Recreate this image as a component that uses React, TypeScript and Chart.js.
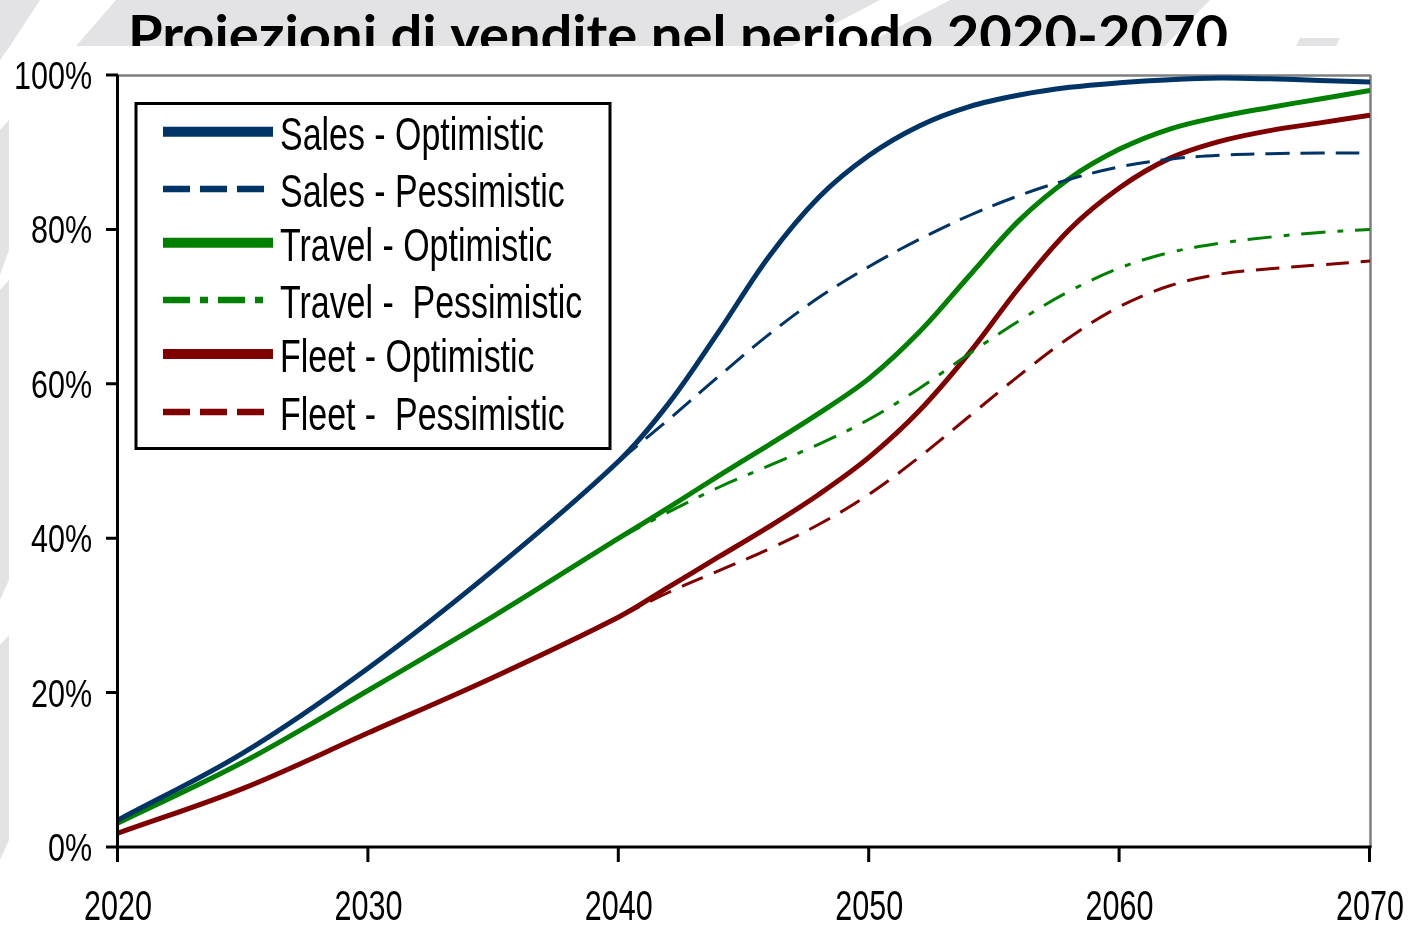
import React, { useEffect, useRef } from "react";
import { Chart, registerables } from "chart.js";

Chart.register(...registerables);

// ---------------- DATA ----------------
const years = [2020, 2025, 2030, 2035, 2040, 2042, 2044, 2046, 2048, 2050, 2052, 2054, 2056, 2058, 2060, 2062, 2064, 2066, 2068, 2070];

const salesOptimistic = [3.5, 12.2, 23.2, 35.9, 50, 57.5, 66.8, 76.5, 84.2, 89.6, 93.4, 95.9, 97.4, 98.4, 99.0, 99.4, 99.6, 99.5, 99.3, 99.1];
const salesPessimistic = [null, null, null, null, 50, 55.4, 61.0, 66.4, 71.2, 75.2, 78.7, 81.8, 84.4, 86.5, 88.1, 89.1, 89.6, 89.8, 89.9, 89.9];
const travelOptimistic = [3.1, 11.0, 20.3, 29.9, 40, 44, 48.1, 52.1, 56.2, 60.7, 66.7, 74.0, 81.2, 86.6, 90.4, 93.0, 94.6, 95.8, 96.9, 98];
const travelPessimistic = [null, null, null, null, 40, 43.4, 46.6, 49.4, 52.2, 55.4, 59.4, 63.9, 68.2, 72.0, 75.0, 77.0, 78.2, 79.0, 79.6, 80.0];
const fleetOptimistic = [1.8, 7.6, 14.8, 22.0, 29.8, 33.7, 37.6, 41.5, 45.7, 50.5, 56.5, 64.0, 72.5, 80.0, 85.4, 89.2, 91.4, 92.8, 93.8, 94.8];
const fleetPessimistic = [null, null, null, null, 29.8, 33.0, 35.8, 38.6, 41.8, 45.7, 50.5, 55.8, 61.1, 66.0, 70.0, 72.7, 74.2, 74.9, 75.4, 75.9];

const seriesLabels = [
  "Sales - Optimistic",
  "Sales - Pessimistic",
  "Travel - Optimistic",
  "Travel -  Pessimistic",
  "Fleet - Optimistic",
  "Fleet -  Pessimistic",
];

const xTickValues = [2020, 2030, 2040, 2050, 2060, 2070];
const xTickLabels = ["2020", "2030", "2040", "2050", "2060", "2070"];
const yTickValues = [0, 20, 40, 60, 80, 100];
const yTickLabels = ["0%", "20%", "40%", "60%", "80%", "100%"];

const chartTitle = "Proiezioni di vendite nel periodo 2020-2070";

// ---------------- STYLES ----------------
const NAVY = "#003366";
const GREEN = "#008000";
const MAROON = "#800000";

const seriesValues = [salesOptimistic, salesPessimistic, travelOptimistic, travelPessimistic, fleetOptimistic, fleetPessimistic];
const seriesColors = [NAVY, NAVY, GREEN, GREEN, MAROON, MAROON];
const seriesWidths = [5, 3, 5, 3, 5, 3];
const seriesDash: number[][] = [[], [24, 11], [], [24, 12, 6, 12], [], [23, 12]];
const legendWidths = [10, 6.5, 10, 6.5, 10, 6.5];
const legendDash: number[][] = [[], [27, 10], [], [27, 10, 8, 10], [], [27, 10]];

const NARROW = "'Liberation Sans Narrow', 'Liberation Sans', Arial, sans-serif";
const TITLE_FONT = "Lato, 'Open Sans', 'DejaVu Sans', sans-serif";

function fitScale(ctx: CanvasRenderingContext2D, text: string, font: string, target: number) {
  ctx.save();
  ctx.font = font;
  const w = ctx.measureText(text).width;
  ctx.restore();
  return w > 0 ? target / w : 1;
}

function drawScaledText(
  ctx: CanvasRenderingContext2D,
  text: string,
  x: number,
  y: number,
  font: string,
  sx: number,
  align: CanvasTextAlign,
  color = "#000"
) {
  ctx.save();
  ctx.font = font;
  ctx.fillStyle = color;
  ctx.textAlign = align;
  ctx.textBaseline = "alphabetic";
  ctx.translate(x, y);
  ctx.scale(sx, 1);
  ctx.fillText(text, 0, 0);
  ctx.restore();
}

const decorPlugin = {
  id: "decor",
  beforeDraw(chart: any) {
    const ctx: CanvasRenderingContext2D = chart.ctx;
    const W = chart.width;
    const H = chart.height;
    ctx.save();
    ctx.fillStyle = "#ffffff";
    ctx.fillRect(0, 0, W, H);

    // light gray background watermark shapes
    ctx.fillStyle = "#e3e3e6";
    const polys: number[][][] = [
      [[116, 0], [880, 0], [792, 46], [76, 46]],
      [[950, 0], [1210, 0], [1165, 46], [862, 46]],
      [[1300, 38], [1340, 38], [1336, 46], [1296, 46]],
      [[0, 0], [40, 0], [10, 46], [0, 60]],
      [[0, 130], [9, 120], [9, 250], [0, 275]],
      [[0, 290], [9, 280], [9, 580], [0, 600]],
      [[0, 645], [9, 635], [9, 840], [0, 860]],
    ];
    for (const p of polys) {
      ctx.beginPath();
      ctx.moveTo(p[0][0], p[0][1]);
      for (let i = 1; i < p.length; i++) ctx.lineTo(p[i][0], p[i][1]);
      ctx.closePath();
      ctx.fill();
    }

    // Title, clipped by the white panel below y=46
    ctx.save();
    ctx.beginPath();
    ctx.rect(0, 0, W, 46);
    ctx.clip();
    const tFont = `bold 54px ${TITLE_FONT}`;
    const tsx = fitScale(ctx, chartTitle, tFont, 1100);
    drawScaledText(ctx, chartTitle, 128, 54, tFont, tsx, "left");
    ctx.restore();
    ctx.restore();
  },
  beforeDatasetsDraw(chart: any) {
    const ctx: CanvasRenderingContext2D = chart.ctx;
    const a = chart.chartArea;
    ctx.save();
    ctx.strokeStyle = "#808080";
    ctx.lineWidth = 2.5;
    ctx.beginPath();
    ctx.moveTo(a.left, a.top + 0.5);
    ctx.lineTo(a.right + 1, a.top + 0.5);
    ctx.moveTo(a.right + 0.5, a.top);
    ctx.lineTo(a.right + 0.5, a.bottom);
    ctx.stroke();
    ctx.restore();
  },
  afterDatasetsDraw(chart: any) {
    const ctx: CanvasRenderingContext2D = chart.ctx;
    const a = chart.chartArea;
    const xs = chart.scales.x;
    const ys = chart.scales.y;

    // black axes + tick marks
    ctx.save();
    ctx.strokeStyle = "#000";
    ctx.lineWidth = 3;
    ctx.lineCap = "butt";
    ctx.beginPath();
    ctx.moveTo(a.left - 0.5, a.top);
    ctx.lineTo(a.left - 0.5, a.bottom);
    ctx.moveTo(a.left - 12, a.bottom);
    ctx.lineTo(a.right + 1.5, a.bottom);
    for (const v of yTickValues) {
      const py = ys.getPixelForValue(v);
      ctx.moveTo(a.left - 12, py);
      ctx.lineTo(a.left, py);
    }
    for (const v of xTickValues) {
      const px = xs.getPixelForValue(v);
      ctx.moveTo(px - 0.5, a.bottom);
      ctx.lineTo(px - 0.5, a.bottom + 15);
    }
    ctx.stroke();
    ctx.restore();

    // tick labels
    const yFont = `39px ${NARROW}`;
    const ysx = fitScale(ctx, "100%", yFont, 78);
    yTickValues.forEach((v, i) => {
      const py = ys.getPixelForValue(v);
      drawScaledText(ctx, yTickLabels[i], a.left - 26, py + 14, yFont, ysx, "right");
    });
    const xFont = `42px ${NARROW}`;
    const xsx = fitScale(ctx, "2020", xFont, 68);
    xTickValues.forEach((v, i) => {
      const px = xs.getPixelForValue(v);
      drawScaledText(ctx, xTickLabels[i], px, 920, xFont, xsx, "center");
    });

    // legend box
    const box = { l: 136, t: 103.5, r: 610, b: 448.5 };
    ctx.save();
    ctx.fillStyle = "#fff";
    ctx.fillRect(box.l, box.t, box.r - box.l, box.b - box.t);
    ctx.strokeStyle = "#000";
    ctx.lineWidth = 3;
    ctx.strokeRect(box.l, box.t, box.r - box.l, box.b - box.t);
    ctx.restore();

    const lFont = `46px ${NARROW}`;
    const lsx = fitScale(ctx, seriesLabels[0], lFont, 264);
    const rowY = [131.7, 189, 242.7, 300, 354, 412];
    chart.data.datasets.forEach((ds: any, i: number) => {
      const y = rowY[i];
      ctx.save();
      ctx.strokeStyle = ds.borderColor;
      ctx.lineWidth = legendWidths[i];
      ctx.setLineDash(legendDash[i]);
      ctx.lineCap = "butt";
      ctx.beginPath();
      ctx.moveTo(163, y);
      ctx.lineTo(legendDash[i].length ? 266 : 273, y);
      ctx.stroke();
      ctx.restore();
      drawScaledText(ctx, ds.label, 280, y + 18, lFont, lsx, "left");
    });
  },
};

export default function App() {
  const ref = useRef<HTMLCanvasElement>(null);

  useEffect(() => {
    document.body.style.margin = "0";
    const canvas = ref.current!;
    const datasets = seriesLabels.map((label, i) => ({
      label,
      data: years.map((x, j) => ({ x, y: seriesValues[i][j] })),
      borderColor: seriesColors[i],
      backgroundColor: seriesColors[i],
      borderWidth: seriesWidths[i],
      borderDash: seriesDash[i],
      pointRadius: 0,
      pointHoverRadius: 0,
      tension: 0.35,
      fill: false,
      spanGaps: false,
    }));

    const chart = new Chart(canvas, {
      type: "line",
      data: { datasets } as any,
      options: {
        responsive: false,
        animation: false,
        devicePixelRatio: 1,
        layout: { padding: { top: 75, right: 40, left: 0, bottom: 0 } },
        plugins: {
          legend: { display: false },
          tooltip: { enabled: false },
          title: { display: false },
        },
        events: [],
        scales: {
          x: {
            type: "linear",
            min: 2020,
            max: 2070,
            ticks: { display: false, stepSize: 10 },
            grid: { display: false },
            border: { display: false },
            afterFit: (s: any) => {
              s.height = 80;
            },
          },
          y: {
            type: "linear",
            min: 0,
            max: 100,
            ticks: { display: false, stepSize: 20 },
            grid: { display: false },
            border: { display: false },
            afterFit: (s: any) => {
              s.width = 118;
            },
          },
        },
      } as any,
      plugins: [decorPlugin],
    });
    return () => chart.destroy();
  }, []);

  return (
    <canvas
      ref={ref}
      width={1410}
      height={927}
      style={{ display: "block", width: "1410px", height: "927px" }}
    />
  );
}
